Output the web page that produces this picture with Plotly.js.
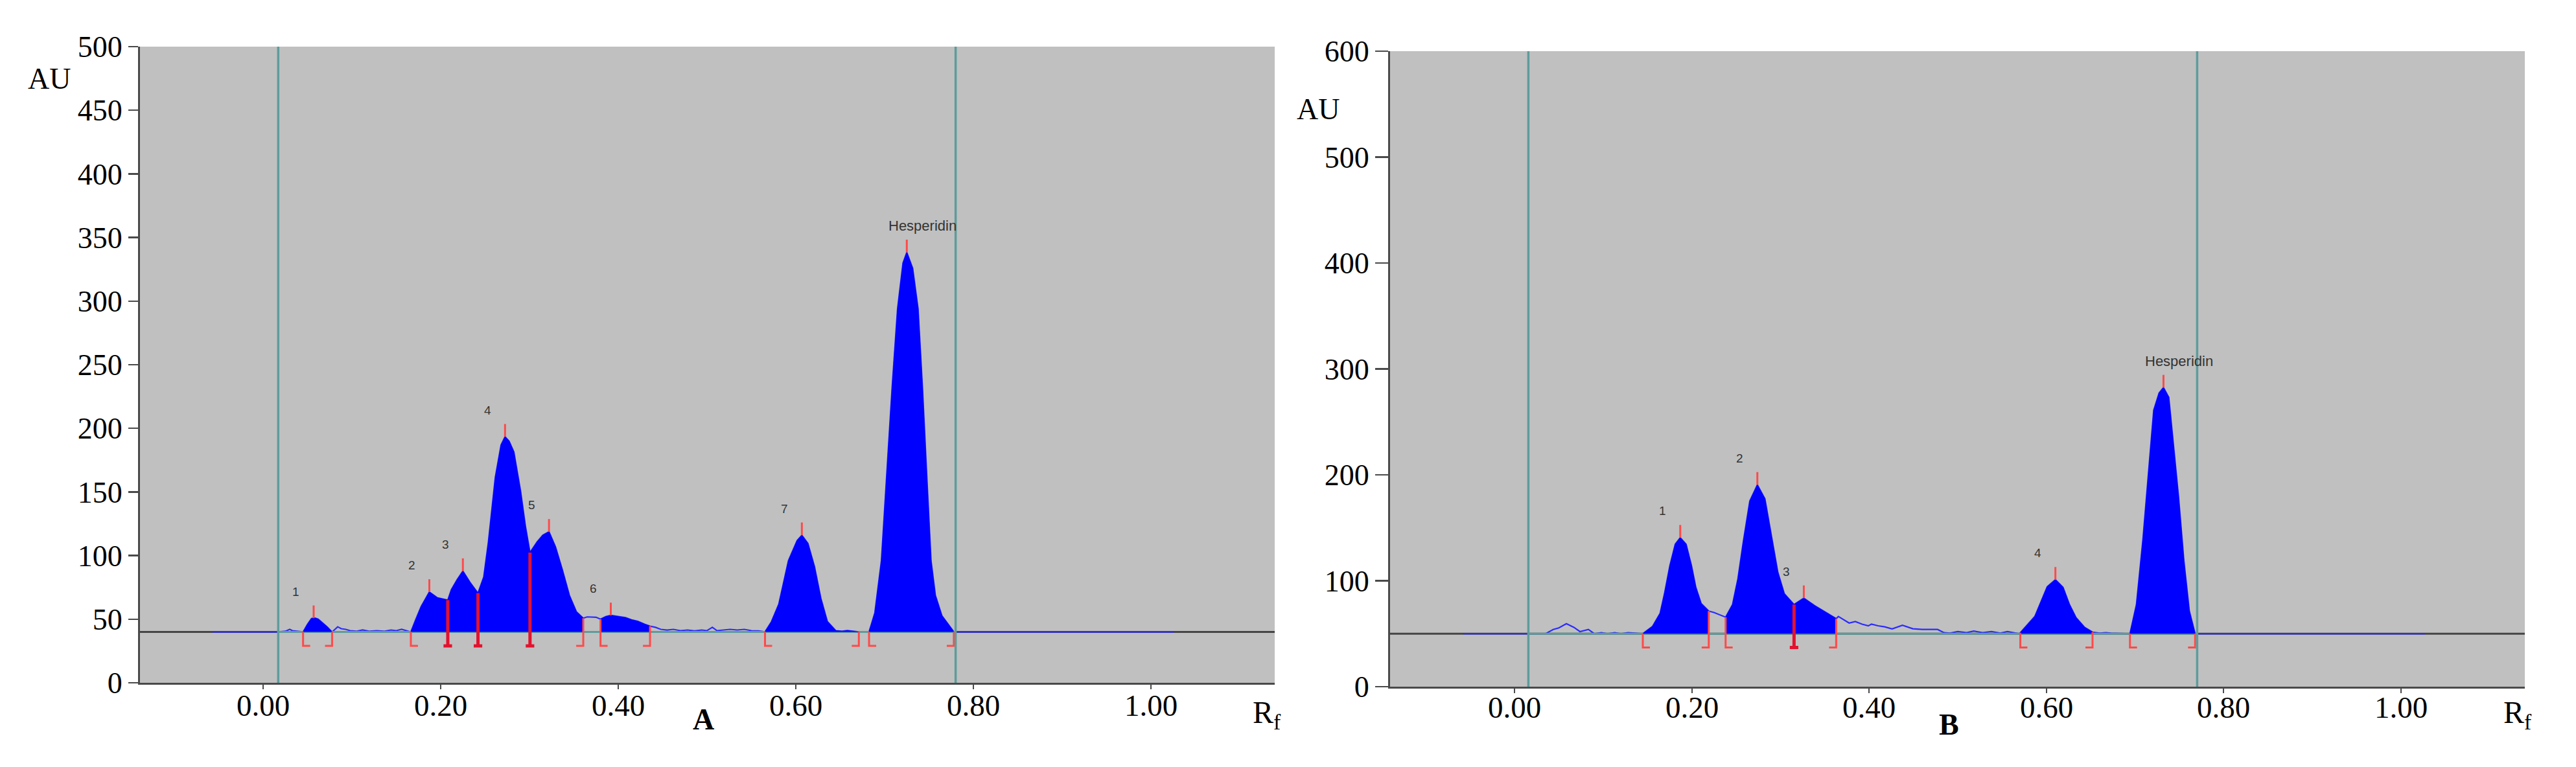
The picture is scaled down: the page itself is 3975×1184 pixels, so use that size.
<!DOCTYPE html>
<html>
<head>
<meta charset="utf-8">
<script src="https://cdn.plot.ly/plotly-3.0.1.min.js"></script>
<style>
  html, body { margin: 0; padding: 0; background: #ffffff; }
  #chart { width: 3975px; height: 1184px; }
</style>
</head>
<body>
<div id="chart"></div>
<script>
// ---------------- Panel A : densitogram (Rf vs AU) ----------------
const rfA = [-0.057, 0.017, 0.025, 0.030, 0.033, 0.038, 0.045, 0.050, 0.0545, 0.058, 0.062, 0.067, 0.072, 0.0777,
  0.081, 0.084, 0.088, 0.093, 0.098, 0.105, 0.112, 0.120, 0.128, 0.136, 0.144, 0.150, 0.156, 0.162,
  0.1664, 0.172, 0.178, 0.1872, 0.1964, 0.208, 0.212, 0.2185, 0.225, 0.233, 0.242,
  0.2485, 0.2537, 0.2615, 0.268, 0.2725, 0.277, 0.2824, 0.290, 0.2954, 0.3006,
  0.3085, 0.315, 0.322, 0.3293, 0.3371, 0.345, 0.3528, 0.3606, 0.365, 0.375, 0.380,
  0.386, 0.3916, 0.400, 0.408, 0.415, 0.422, 0.430, 0.4358, 0.442, 0.448, 0.455, 0.462, 0.470,
  0.478, 0.486, 0.494, 0.500, 0.506, 0.511, 0.518, 0.526, 0.534, 0.542, 0.550, 0.558,
  0.5653, 0.5725, 0.5808, 0.5917, 0.6015, 0.6068, 0.6136, 0.621, 0.6282, 0.6355, 0.645, 0.652, 0.658, 0.664, 0.671,
  0.6825, 0.689, 0.6964, 0.7024, 0.7085, 0.7146, 0.7207, 0.725, 0.7316, 0.7377, 0.7426, 0.7474, 0.7523,
  0.7572, 0.7645, 0.7718, 0.778, 1.026];
const auA = [40, 40, 40.5, 42, 41, 40.5, 40, 46, 50.5, 51, 50, 47, 44, 40,
  42, 44, 42.5, 42, 41, 40.5, 41.5, 40.5, 41, 40.5, 41.5, 41, 42, 41,
  40, 50, 60, 71.4, 66.8, 65, 73.2, 81, 87.8, 79, 70.5,
  83.2, 110.6, 161.5, 187, 193.4, 190, 181.5, 150.6, 123.3, 102.4,
  110.6, 116, 118.7, 106.9, 88.7, 68.7, 55.9, 50.8, 51.8, 51.5, 50,
  52, 53, 52, 51.2, 49.5, 48.3, 46, 44.5, 43.6, 42, 41.4, 42, 41,
  41.5, 40.8, 41.5, 41, 43.6, 41, 41.5, 42, 41.5, 42, 41, 40.8,
  40, 48, 61.8, 96, 111.9, 116, 109.6, 91.4, 66.4, 48.2, 41, 40.5, 41, 40.5, 40,
  40, 55, 96, 164, 232.5, 294, 330, 338.3, 325.8, 294, 232.5, 164, 96,
  68.7, 52.8, 45.9, 40, 40];
const baseA = 40;
const frontA = [0.017, 0.78];
const openA = [0.045, 0.1664, 0.380, 0.5653, 0.6825];
const closeA = [0.0777, 0.3606, 0.4358, 0.671, 0.778];
const splitA = [0.208, 0.242, 0.3006];
const peakRfA = [0.0569, 0.1872, 0.225, 0.2725, 0.322, 0.3916, 0.6068, 0.725];
const peakAuA = [50.8, 71.4, 87.8, 193.4, 118.7, 53, 116, 338.3];
const peakNameA = ["1", "2", "3", "4", "5", "6", "7", "Hesperidin"];

// ---------------- Panel B ----------------
const rfB = [-0.058, 0.0156, 0.035, 0.0436, 0.050, 0.0585, 0.063, 0.067, 0.0738, 0.078, 0.0833, 0.090,
  0.098, 0.105, 0.113, 0.120, 0.128, 0.136,
  0.1447, 0.1557, 0.1642, 0.1691, 0.1752, 0.1813, 0.1869, 0.1935, 0.1996, 0.2045, 0.2105, 0.2191,
  0.225, 0.2381, 0.2459, 0.252, 0.258, 0.2654, 0.2739, 0.2824, 0.2897, 0.297, 0.3043, 0.3153,
  0.3263, 0.3385, 0.3507, 0.3628, 0.3653, 0.372, 0.3774, 0.3844, 0.392, 0.399, 0.4026, 0.410,
  0.4176, 0.4259, 0.4376, 0.4493, 0.460, 0.4772, 0.4846, 0.4912, 0.500, 0.510, 0.518, 0.528,
  0.538, 0.548, 0.556, 0.5695, 0.5869, 0.6009, 0.6101, 0.6187, 0.626, 0.6333, 0.6431, 0.652,
  0.660, 0.667, 0.673, 0.6942, 0.7015, 0.7088, 0.7149, 0.721, 0.7271, 0.732, 0.738, 0.7429,
  0.749, 0.7551, 0.7612, 0.7677, 1.027];
const auB = [50, 50, 50, 54, 55.5, 59.5, 57.5, 56, 52, 53, 54, 50,
  51, 50, 51, 50, 51, 50.5,
  50, 57, 69.3, 87.7, 114.2, 134.6, 140.7, 134.6, 114.2, 93.8, 78.5, 71.4,
  70, 65.6, 77.5, 102, 136.6, 175.3, 190.6, 177.4, 142.7, 108, 87.7, 77.5,
  83.6, 76.5, 70.3, 64.2, 66.3, 63, 60.1, 61.5, 59, 57.4, 59, 57.5,
  56.5, 54.5, 58, 54.7, 54, 54, 51, 50.6, 52, 51, 52.5, 51,
  52, 50.5, 52, 50, 66.3, 94.4, 101, 93.8, 77.5, 65.3, 56, 51.5,
  50.5, 51, 50.5, 50, 77.5, 138.7, 199.8, 261, 277.3, 282.4, 273.2, 230.4,
  179.4, 118.2, 71.4, 50, 50];
const baseB = 50;
const frontB = [0.0156, 0.770];
const openB = [0.1447, 0.2381, 0.5705, 0.6942];
const closeB = [0.2191, 0.3628, 0.652, 0.7677];
const splitB = [0.3153];
const peakRfB = [0.1869, 0.2739, 0.3263, 0.6101, 0.732];
const peakAuB = [140.7, 190.6, 83.6, 101, 282.4];
const peakNameB = ["1", "2", "3", "4", "Hesperidin"];

const yTicksA = [0, 50, 100, 150, 200, 250, 300, 350, 400, 450, 500];
const yTicksB = [0, 100, 200, 300, 400, 500, 600];
const xTicks = [0, 0.2, 0.4, 0.6, 0.8, 1.0];
const xTickText = ["0.00", "0.20", "0.40", "0.60", "0.80", "1.00"];

// ---------------- helpers ----------------
function interp(xs, ys, x) {
  for (let i = 0; i < xs.length - 1; i++) {
    if (x >= xs[i] && x <= xs[i + 1]) {
      const t = (x - xs[i]) / (xs[i + 1] - xs[i]);
      return ys[i] + t * (ys[i + 1] - ys[i]);
    }
  }
  return ys[ys.length - 1];
}

const BLUE = '#0000ff';
const TEAL = '#5e9c9c';
const RED = '#ff4a4a';
const RED_DARK = '#e3122e';

function scanTrace(rf, au, xa, ya) {
  return {x: rf, y: au, xaxis: xa, yaxis: ya, type: 'scatter', mode: 'lines',
    line: {color: '#2b2bff', width: 2.2}, hoverinfo: 'skip'};
}

function fillTraces(rf, au, base, opens, closes, xa, ya) {
  const tr = [];
  for (let k = 0; k < opens.length; k++) {
    const s = opens[k], e = closes[k];
    const xs = [s, s], ys = [base, interp(rf, au, s)];
    for (let i = 0; i < rf.length; i++) {
      if (rf[i] > s && rf[i] < e) { xs.push(rf[i]); ys.push(au[i]); }
    }
    xs.push(e, e); ys.push(interp(rf, au, e), base);
    tr.push({x: xs, y: ys, xaxis: xa, yaxis: ya, type: 'scatter', mode: 'lines',
      fill: 'toself', fillcolor: BLUE, line: {color: BLUE, width: 1}, hoverinfo: 'skip'});
  }
  return tr;
}

function baselineTrace(front, base, xa, ya) {
  return {x: front, y: [base, base], xaxis: xa, yaxis: ya, type: 'scatter', mode: 'lines',
    line: {color: TEAL, width: 3}, hoverinfo: 'skip'};
}

function markerTraces(rf, au, base, opens, closes, splits, peakRf, peakAu, xa, ya, tickLenAU, brDepth, brFoot) {
  const bx = [], by = [];
  opens.forEach(x => {
    const top = Math.max(base, interp(rf, au, x));
    bx.push(x, x, x + brFoot, null); by.push(top, base - brDepth, base - brDepth, null);
  });
  closes.forEach(x => {
    const top = Math.max(base, interp(rf, au, x));
    bx.push(x, x, x - brFoot, null); by.push(top, base - brDepth, base - brDepth, null);
  });
  const sx = [], sy = [];
  splits.forEach(x => {
    const top = interp(rf, au, x);
    sx.push(x, x, null, x - brFoot * 0.6, x + brFoot * 0.6, null);
    sy.push(top, base - brDepth, null, base - brDepth, base - brDepth, null);
  });
  const px = [], py = [];
  peakRf.forEach((x, i) => { px.push(x, x, null); py.push(peakAu[i], peakAu[i] + tickLenAU, null); });
  return [
    {x: bx, y: by, xaxis: xa, yaxis: ya, type: 'scatter', mode: 'lines', line: {color: RED, width: 3}, hoverinfo: 'skip', connectgaps: false},
    {x: sx, y: sy, xaxis: xa, yaxis: ya, type: 'scatter', mode: 'lines', line: {color: RED_DARK, width: 5}, hoverinfo: 'skip', connectgaps: false},
    {x: px, y: py, xaxis: xa, yaxis: ya, type: 'scatter', mode: 'lines', line: {color: RED, width: 3}, hoverinfo: 'skip', connectgaps: false}
  ];
}

const data = [].concat(
  [scanTrace(rfA, auA, 'x', 'y')],
  [baselineTrace(frontA, baseA, 'x', 'y')],
  fillTraces(rfA, auA, baseA, openA, closeA, 'x', 'y'),
  markerTraces(rfA, auA, baseA, openA, closeA, splitA, peakRfA, peakAuA, 'x', 'y', 10, 11, 0.008),
  [scanTrace(rfB, auB, 'x2', 'y2')],
  [baselineTrace(frontB, baseB, 'x2', 'y2')],
  fillTraces(rfB, auB, baseB, openB, closeB, 'x2', 'y2'),
  markerTraces(rfB, auB, baseB, openB, closeB, splitB, peakRfB, peakAuB, 'x2', 'y2', 12, 13, 0.008)
);

const W = 3975, H = 1184;
const SERIF = '"Liberation Serif", "Times New Roman", serif';
const SANS = '"Liberation Sans", Arial, sans-serif';
const AXC = '#4a4a4a';

function xAxis(domain, range, anchor) {
  return {domain: domain, range: range, anchor: anchor, showline: true, linecolor: AXC, linewidth: 3,
    ticks: 'outside', ticklen: 7, tickwidth: 2, tickcolor: AXC, tickvals: xTicks,
    showticklabels: false,
    showgrid: false, zeroline: false, fixedrange: true};
}
function yAxis(domain, range, ticks, anchor, tl) {
  return {domain: domain, range: range, anchor: anchor, showline: true, linecolor: AXC, linewidth: 3,
    ticks: 'outside', ticklen: tl, tickwidth: 2.5, tickcolor: AXC, tickvals: ticks,
    showgrid: false, zeroline: false, fixedrange: true,
    tickfont: {family: SERIF, size: 46, color: '#000'}};
}

const annotations = [];
// x tick labels (placed on the x scale, just below the axis)
function xLabels(xa, py) {
  xTicks.forEach((v, i) => {
    annotations.push({x: v, y: 1 - py / H, xref: xa, yref: 'paper', text: xTickText[i], showarrow: false,
      xanchor: 'center', yanchor: 'middle', font: {family: SERIF, size: 47, color: '#000'}});
  });
}
xLabels('x', 1089);
xLabels('x2', 1092);

function peakLabels(peakRf, peakAu, names, xa, ya) {
  peakRf.forEach((x, i) => {
    const isName = names[i].length > 2;
    annotations.push({x: x, y: peakAu[i], xref: xa, yref: ya, text: names[i], showarrow: false,
      xanchor: isName ? 'left' : 'center', yanchor: 'middle',
      xshift: isName ? -30 : -27, yshift: 41,
      font: {family: SANS, size: isName ? 22 : 19, color: '#333333'}});
  });
}
peakLabels(peakRfA, peakAuA, peakNameA, 'x', 'y');
peakLabels(peakRfB, peakAuB, peakNameB, 'x2', 'y2');

function paperText(px, py, text, size) {
  annotations.push({x: px / W, y: 1 - py / H, xref: 'paper', yref: 'paper', text: text,
    showarrow: false, xanchor: 'center', yanchor: 'middle',
    font: {family: SERIF, size: size, color: '#000'}});
}
paperText(76, 121, 'AU', 46);
paperText(2034, 168, 'AU', 46);
paperText(1955, 1103, 'R<sub>f</sub>', 48);
paperText(3885, 1103, 'R<sub>f</sub>', 48);
paperText(1085, 1110, '<b>A</b>', 46);
paperText(3007, 1118, '<b>B</b>', 46);

function fronts(front, xa, ya) {
  return front.map(x => ({type: 'line', xref: xa, yref: ya + ' domain', x0: x, x1: x, y0: 0, y1: 1,
    line: {color: TEAL, width: 3.5}, layer: 'above'}));
}
function grayBase(base, xa, ya) {
  return {type: 'line', xref: xa + ' domain', yref: ya, x0: 0, x1: 1, y0: base, y1: base,
    line: {color: '#454545', width: 3}, layer: 'below'};
}

const layout = {
  width: W, height: H,
  margin: {l: 0, r: 0, t: 0, b: 0, pad: 0},
  paper_bgcolor: '#ffffff',
  plot_bgcolor: '#c0c0c0',
  showlegend: false,
  hovermode: false,
  xaxis: xAxis([216 / W, 1967 / W], [-0.1387, 1.1394], 'y'),
  yaxis: yAxis([1 - 1054 / H, 1 - 72 / H], [0, 500], yTicksA, 'x', 15),
  xaxis2: xAxis([2145 / W, 3896 / W], [-0.1404, 1.1396], 'y2'),
  yaxis2: yAxis([1 - 1060 / H, 1 - 79 / H], [0, 600], yTicksB, 'x2', 20),
  annotations: annotations,
  shapes: [grayBase(baseA, 'x', 'y'), grayBase(baseB, 'x2', 'y2')]
    .concat(fronts(frontA, 'x', 'y'), fronts(frontB, 'x2', 'y2'))
};

Plotly.newPlot('chart', data, layout, {staticPlot: true, displayModeBar: false});
</script>
</body>
</html>
